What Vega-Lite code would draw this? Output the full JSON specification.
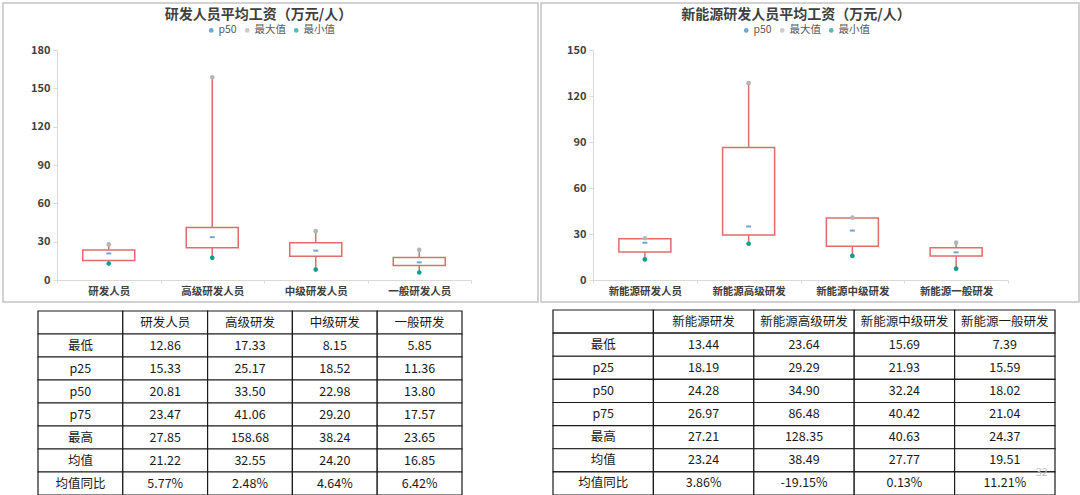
{
  "$schema": "https://vega.github.io/schema/vega-lite/v6.json",
  "padding": {"left": 2, "top": 2, "right": 0, "bottom": 0},
  "background": "white",
  "config": {
    "font": "Noto Sans CJK SC",
    "view": {"stroke": null},
    "axis": {"grid": false, "title": null, "domainColor": "#d9d9d9", "tickColor": "#d9d9d9", "labelColor": "#404040", "labelFontWeight": "bold", "labelFont": "Noto Sans CJK SC"},
    "legend": {"orient": "none", "direction": "horizontal", "title": null, "labelFontSize": 10.5, "labelColor": "#595959", "symbolSize": 22, "symbolType": "circle", "columnPadding": 5, "labelOffset": 2, "symbolStrokeWidth": 0}
  },
  "datasets": {
    "rd": [
      {"cat": "研发人员", "min": 12.86, "p25": 15.33, "p50": 20.81, "p75": 23.47, "max": 27.85},
      {"cat": "高级研发人员", "min": 17.33, "p25": 25.17, "p50": 33.5, "p75": 41.06, "max": 158.68},
      {"cat": "中级研发人员", "min": 8.15, "p25": 18.52, "p50": 22.98, "p75": 29.2, "max": 38.24},
      {"cat": "一般研发人员", "min": 5.85, "p25": 11.36, "p50": 13.8, "p75": 17.57, "max": 23.65}
    ],
    "ne": [
      {"cat": "新能源研发人员", "min": 13.44, "p25": 18.19, "p50": 24.28, "p75": 26.97, "max": 27.21},
      {"cat": "新能源高级研发", "min": 23.64, "p25": 29.29, "p50": 34.9, "p75": 86.48, "max": 128.35},
      {"cat": "新能源中级研发", "min": 15.69, "p25": 21.93, "p50": 32.24, "p75": 40.42, "max": 40.63},
      {"cat": "新能源一般研发", "min": 7.39, "p25": 15.59, "p50": 18.02, "p75": 21.04, "max": 24.37}
    ],
    "t1": [
      {"row": "h", "col": "l", "t": ""},
      {"row": "h", "col": "研发人员", "t": "研发人员"},
      {"row": "h", "col": "高级研发", "t": "高级研发"},
      {"row": "h", "col": "中级研发", "t": "中级研发"},
      {"row": "h", "col": "一般研发", "t": "一般研发"},
      {"row": "最低", "col": "l", "t": "最低"},
      {"row": "最低", "col": "研发人员", "t": "12.86"},
      {"row": "最低", "col": "高级研发", "t": "17.33"},
      {"row": "最低", "col": "中级研发", "t": "8.15"},
      {"row": "最低", "col": "一般研发", "t": "5.85"},
      {"row": "p25", "col": "l", "t": "p25"},
      {"row": "p25", "col": "研发人员", "t": "15.33"},
      {"row": "p25", "col": "高级研发", "t": "25.17"},
      {"row": "p25", "col": "中级研发", "t": "18.52"},
      {"row": "p25", "col": "一般研发", "t": "11.36"},
      {"row": "p50", "col": "l", "t": "p50"},
      {"row": "p50", "col": "研发人员", "t": "20.81"},
      {"row": "p50", "col": "高级研发", "t": "33.50"},
      {"row": "p50", "col": "中级研发", "t": "22.98"},
      {"row": "p50", "col": "一般研发", "t": "13.80"},
      {"row": "p75", "col": "l", "t": "p75"},
      {"row": "p75", "col": "研发人员", "t": "23.47"},
      {"row": "p75", "col": "高级研发", "t": "41.06"},
      {"row": "p75", "col": "中级研发", "t": "29.20"},
      {"row": "p75", "col": "一般研发", "t": "17.57"},
      {"row": "最高", "col": "l", "t": "最高"},
      {"row": "最高", "col": "研发人员", "t": "27.85"},
      {"row": "最高", "col": "高级研发", "t": "158.68"},
      {"row": "最高", "col": "中级研发", "t": "38.24"},
      {"row": "最高", "col": "一般研发", "t": "23.65"},
      {"row": "均值", "col": "l", "t": "均值"},
      {"row": "均值", "col": "研发人员", "t": "21.22"},
      {"row": "均值", "col": "高级研发", "t": "32.55"},
      {"row": "均值", "col": "中级研发", "t": "24.20"},
      {"row": "均值", "col": "一般研发", "t": "16.85"},
      {"row": "均值同比", "col": "l", "t": "均值同比"},
      {"row": "均值同比", "col": "研发人员", "t": "5.77%"},
      {"row": "均值同比", "col": "高级研发", "t": "2.48%"},
      {"row": "均值同比", "col": "中级研发", "t": "4.64%"},
      {"row": "均值同比", "col": "一般研发", "t": "6.42%"}
    ],
    "t2": [
      {"row": "h", "col": "l", "t": ""},
      {"row": "h", "col": "新能源研发", "t": "新能源研发"},
      {"row": "h", "col": "新能源高级研发", "t": "新能源高级研发"},
      {"row": "h", "col": "新能源中级研发", "t": "新能源中级研发"},
      {"row": "h", "col": "新能源一般研发", "t": "新能源一般研发"},
      {"row": "最低", "col": "l", "t": "最低"},
      {"row": "最低", "col": "新能源研发", "t": "13.44"},
      {"row": "最低", "col": "新能源高级研发", "t": "23.64"},
      {"row": "最低", "col": "新能源中级研发", "t": "15.69"},
      {"row": "最低", "col": "新能源一般研发", "t": "7.39"},
      {"row": "p25", "col": "l", "t": "p25"},
      {"row": "p25", "col": "新能源研发", "t": "18.19"},
      {"row": "p25", "col": "新能源高级研发", "t": "29.29"},
      {"row": "p25", "col": "新能源中级研发", "t": "21.93"},
      {"row": "p25", "col": "新能源一般研发", "t": "15.59"},
      {"row": "p50", "col": "l", "t": "p50"},
      {"row": "p50", "col": "新能源研发", "t": "24.28"},
      {"row": "p50", "col": "新能源高级研发", "t": "34.90"},
      {"row": "p50", "col": "新能源中级研发", "t": "32.24"},
      {"row": "p50", "col": "新能源一般研发", "t": "18.02"},
      {"row": "p75", "col": "l", "t": "p75"},
      {"row": "p75", "col": "新能源研发", "t": "26.97"},
      {"row": "p75", "col": "新能源高级研发", "t": "86.48"},
      {"row": "p75", "col": "新能源中级研发", "t": "40.42"},
      {"row": "p75", "col": "新能源一般研发", "t": "21.04"},
      {"row": "最高", "col": "l", "t": "最高"},
      {"row": "最高", "col": "新能源研发", "t": "27.21"},
      {"row": "最高", "col": "新能源高级研发", "t": "128.35"},
      {"row": "最高", "col": "新能源中级研发", "t": "40.63"},
      {"row": "最高", "col": "新能源一般研发", "t": "24.37"},
      {"row": "均值", "col": "l", "t": "均值"},
      {"row": "均值", "col": "新能源研发", "t": "23.24"},
      {"row": "均值", "col": "新能源高级研发", "t": "38.49"},
      {"row": "均值", "col": "新能源中级研发", "t": "27.77"},
      {"row": "均值", "col": "新能源一般研发", "t": "19.51"},
      {"row": "均值同比", "col": "l", "t": "均值同比"},
      {"row": "均值同比", "col": "新能源研发", "t": "3.86%"},
      {"row": "均值同比", "col": "新能源高级研发", "t": "-19.15%"},
      {"row": "均值同比", "col": "新能源中级研发", "t": "0.13%"},
      {"row": "均值同比", "col": "新能源一般研发", "t": "11.21%"}
    ]
  },
  "bounds": "full",
  "spacing": 6,
  "vconcat": [
    {
      "bounds": "flush",
      "spacing": 3,
      "resolve": {"scale": {"color": "independent"}, "legend": {"color": "independent"}},
      "hconcat": [
        {
          "width": 535,
          "height": 299,
          "view": {"stroke": "#c4c4c4", "strokeWidth": 1.5},
          "title": {"text": "研发人员平均工资（万元/人）", "fontSize": 14, "fontWeight": "bold", "color": "#404040", "anchor": "middle", "offset": -19, "dx": -12},
          "data": {"name": "rd"},
          "encoding": {
            "x": {"field": "cat", "type": "nominal", "sort": null,
              "scale": {"range": [54, 468], "paddingInner": 0, "paddingOuter": 0},
              "axis": {"offset": -22, "labelAngle": 0, "labelFontSize": 10.5, "tickBand": "extent", "tickSize": 3, "labelPadding": 3}}
          },
          "layer": [
            {"mark": {"type": "rule", "color": "#e06c6c", "strokeWidth": 1.5},
              "encoding": {"y": {"field": "min", "type": "quantitative",
                "scale": {"domain": [0, 180], "range": [277, 47], "nice": false},
                "axis": {"values": [0, 30, 60, 90, 120, 150, 180], "offset": -54, "labelFontSize": 11, "tickSize": 4, "labelPadding": 3}},
                "y2": {"field": "max"}}},
            {"mark": {"type": "bar", "fill": "white", "stroke": "#e06c6c", "strokeWidth": 1.5, "width": 52},
              "encoding": {"y": {"field": "p25", "type": "quantitative"}, "y2": {"field": "p75"}}},
            {"mark": {"type": "tick", "thickness": 2, "size": 5},
              "encoding": {"y": {"field": "p50", "type": "quantitative"},
                "color": {"datum": "p50", "type": "nominal",
                  "scale": {"domain": ["p50", "最大值", "最小值"], "range": ["#2e86c1", "#b5b5b5", "#0e9e8e"]},
                  "legend": {"legendX": 203, "legendY": 22}}}},
            {"mark": {"type": "circle", "size": 22, "opacity": 1},
              "encoding": {"y": {"field": "max", "type": "quantitative"}, "color": {"datum": "最大值", "type": "nominal"}}},
            {"mark": {"type": "circle", "size": 22, "opacity": 1},
              "encoding": {"y": {"field": "min", "type": "quantitative"}, "color": {"datum": "最小值", "type": "nominal"}}}
          ]
        },
        {
          "width": 538,
          "height": 299,
          "view": {"stroke": "#c4c4c4", "strokeWidth": 1.5},
          "title": {"text": "新能源研发人员平均工资（万元/人）", "fontSize": 14, "fontWeight": "bold", "color": "#404040", "anchor": "middle", "offset": -19, "dx": -14},
          "data": {"name": "ne"},
          "encoding": {
            "x": {"field": "cat", "type": "nominal", "sort": null,
              "scale": {"range": [52, 467], "paddingInner": 0, "paddingOuter": 0},
              "axis": {"offset": -22, "labelAngle": 0, "labelFontSize": 10.5, "tickBand": "extent", "tickSize": 3, "labelPadding": 3}}
          },
          "layer": [
            {"mark": {"type": "rule", "color": "#e06c6c", "strokeWidth": 1.5},
              "encoding": {"y": {"field": "min", "type": "quantitative",
                "scale": {"domain": [0, 150], "range": [277, 47], "nice": false},
                "axis": {"values": [0, 30, 60, 90, 120, 150], "offset": -52, "labelFontSize": 11, "tickSize": 4, "labelPadding": 3}},
                "y2": {"field": "max"}}},
            {"mark": {"type": "bar", "fill": "white", "stroke": "#e06c6c", "strokeWidth": 1.5, "width": 52},
              "encoding": {"y": {"field": "p25", "type": "quantitative"}, "y2": {"field": "p75"}}},
            {"mark": {"type": "tick", "thickness": 2, "size": 5},
              "encoding": {"y": {"field": "p50", "type": "quantitative"},
                "color": {"datum": "p50", "type": "nominal",
                  "scale": {"domain": ["p50", "最大值", "最小值"], "range": ["#2e86c1", "#b5b5b5", "#0e9e8e"]},
                  "legend": {"legendX": 200, "legendY": 22}}}},
            {"mark": {"type": "circle", "size": 22, "opacity": 1},
              "encoding": {"y": {"field": "max", "type": "quantitative"}, "color": {"datum": "最大值", "type": "nominal"}}},
            {"mark": {"type": "circle", "size": 22, "opacity": 1},
              "encoding": {"y": {"field": "min", "type": "quantitative"}, "color": {"datum": "最小值", "type": "nominal"}}}
          ]
        }
      ]
    },
    {
      "bounds": "flush",
      "spacing": 91,
      "hconcat": [
        {
          "width": 459,
          "height": 185,
          "data": {"name": "t1"},
          "encoding": {
            "x": {"field": "col", "type": "nominal", "axis": null,
              "scale": {"domain": ["l", "研发人员", "高级研发", "中级研发", "一般研发"], "range": [35, 459], "paddingInner": 0, "paddingOuter": 0}},
            "y": {"field": "row", "type": "nominal", "axis": null,
              "scale": {"domain": ["h", "最低", "p25", "p50", "p75", "最高", "均值", "均值同比"], "range": [1, 185], "paddingInner": 0, "paddingOuter": 0}}
          },
          "layer": [
            {"mark": {"type": "rect", "fill": "white", "stroke": "#1a1a1a", "strokeWidth": 1.2}},
            {"mark": {"type": "text", "fontSize": 12.5, "color": "#1a1a1a"}, "encoding": {"text": {"field": "t"}}}
          ]
        },
        {
          "width": 502,
          "height": 185,
          "data": {"name": "t2"},
          "encoding": {
            "x": {"field": "col", "type": "nominal", "axis": null,
              "scale": {"domain": ["l", "新能源研发", "新能源高级研发", "新能源中级研发", "新能源一般研发"], "range": [0, 502], "paddingInner": 0, "paddingOuter": 0}},
            "y": {"field": "row", "type": "nominal", "axis": null,
              "scale": {"domain": ["h", "最低", "p25", "p50", "p75", "最高", "均值", "均值同比"], "range": [0, 185], "paddingInner": 0, "paddingOuter": 0}}
          },
          "layer": [
            {"mark": {"type": "rect", "fill": "white", "stroke": "#1a1a1a", "strokeWidth": 1.2}},
            {"mark": {"type": "text", "fontSize": 12.5, "color": "#1a1a1a"}, "encoding": {"text": {"field": "t"}}},
            {"data": {"values": [{"col": "新能源一般研发", "row": "均值", "t": "32"}]},
              "mark": {"type": "text", "fontSize": 11, "color": "#bfbfbf", "dx": 37, "dy": 13},
              "encoding": {"text": {"field": "t"}}}
          ]
        }
      ]
    }
  ]
}
